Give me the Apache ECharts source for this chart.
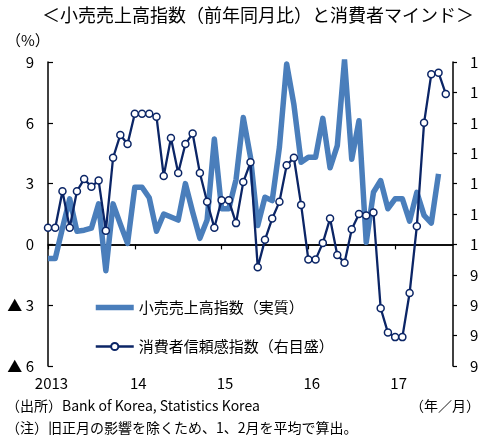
<!DOCTYPE html>
<html>
<head>
<meta charset="utf-8">
<script src="https://cdn.jsdelivr.net/npm/echarts@6/dist/echarts.min.js"></script>
<style>
  html, body { margin: 0; padding: 0; background: #fff; }
  #chart { width: 478px; height: 439px; }
</style>
</head>
<body>
<div id="chart"></div>
<script>
  // 月次: 2013/1 から 2017/9 まで（軸の右端は 2017/9）
  const startYear = 2013
  const monthCount = 57
  const yearLabels = ['2013', '14', '15', '16', '17']

  // 小売売上高指数（実質, 前年同月比 %）2013/1 - 2017/7
  const retailSales = [
    -0.7, -0.7, 0.8, 2.25, 0.65, 0.7, 0.8, 2.0, -1.3, 2.0, 1.0, 0.05,
    2.82, 2.82, 2.3, 0.65, 1.5, 1.35, 1.2, 3.0, 1.6, 0.3, 1.2, 5.2,
    1.76, 1.76, 3.2, 6.26, 4.3, 0.93, 2.33, 2.16, 4.8, 8.9, 6.9, 4.05,
    4.3, 4.3, 6.22, 3.78, 4.87, 9.1, 4.2, 6.1, 0.1, 2.57, 3.15, 1.76,
    2.25, 2.25, 1.15, 2.57, 1.43, 1.05, 3.48
  ]

  // 消費者信頼感指数（右目盛）2013/1 - 2017/8
  const consumerSentiment = [
    101.1, 101.1, 103.5, 101.1, 103.5, 104.3, 103.8, 104.2, 100.9, 105.7, 107.2, 106.6,
    108.6, 108.6, 108.6, 108.4, 104.5, 107.0, 104.7, 106.6, 107.3, 104.7, 102.8, 101.1,
    102.9, 102.9, 101.4, 104.1, 105.4, 98.5, 100.3, 101.7, 102.8, 105.2, 105.7, 102.6,
    99.0, 99.0, 100.1, 101.7, 99.3, 98.8, 101.0, 102.0, 101.9, 102.1, 95.8, 94.2,
    93.9, 93.9, 96.8, 101.2, 108.0, 111.2, 111.3, 109.9
  ]

  const months = []
  for (let i = 0; i < monthCount; i++) {
    months.push((startYear + Math.floor(i / 12)) + '/' + (i % 12 + 1))
  }

  const FONT = '"Noto Sans CJK JP", "Noto Sans", sans-serif'
  const BLUE = '#4A7EBB'
  const NAVY = '#0B2566'

  const chart = echarts.init(document.getElementById('chart'))
  const isYearStart = (idx) => idx % 12 === 0

  const option = {
    animation: false,
    textStyle: {fontFamily: FONT, color: '#000'},
    grid: {left: 48, right: 25, top: 62, bottom: 73, containLabel: false, outerBoundsMode: 'none'},
    legend: {
      orient: 'vertical',
      left: 93,
      top: 300,
      padding: 0,
      itemWidth: 38,
      itemHeight: 9,
      itemGap: 24,
      textStyle: {fontFamily: FONT, fontSize: 15, color: '#000'},
      data: [
        {name: '小売売上高指数（実質）', lineStyle: {width: 5.5}, itemStyle: {opacity: 0}},
        {name: '消費者信頼感指数（右目盛）', lineStyle: {width: 2.3}}
      ]
    },
    xAxis: {
      type: 'category',
      data: months,
      boundaryGap: false,
      axisLine: {lineStyle: {color: '#000', width: 1.5}},
      axisTick: {
        interval: (idx) => isYearStart(idx),
        length: 5,
        lineStyle: {color: '#000', width: 1.2}
      },
      axisLabel: {
        interval: (idx) => isYearStart(idx),
        formatter: (val, idx) => yearLabels[Math.floor(idx / 12)],
        margin: 10,
        padding: [0, 0, 0, 7],
        fontSize: 15,
        color: '#000',
        fontFamily: FONT
      },
      splitLine: {show: false}
    },
    yAxis: [
      {
        type: 'value',
        min: -6,
        max: 9,
        interval: 3,
        axisLine: {show: true, lineStyle: {color: '#000', width: 1.5}},
        axisTick: {show: true, inside: true, length: 5, lineStyle: {color: '#000', width: 1.2}},
        axisLabel: {
          margin: 14,
          fontSize: 15,
          color: '#000',
          fontFamily: FONT,
          formatter: (v) => v < 0 ? '▲ ' + (-v) : String(v)
        },
        splitLine: {show: false}
      },
      {
        type: 'value',
        min: 92,
        max: 112,
        interval: 2,
        position: 'right',
        axisLine: {show: true, lineStyle: {color: '#000', width: 1.5}},
        axisTick: {show: true, inside: false, length: 4, lineStyle: {color: '#000', width: 1.2}},
        axisLabel: {margin: 17, fontSize: 15, color: '#000', fontFamily: FONT},
        splitLine: {show: false}
      }
    ],
    series: [
      {
        name: '小売売上高指数（実質）',
        type: 'line',
        yAxisIndex: 0,
        data: retailSales,
        symbol: 'none',
        color: BLUE,
        lineStyle: {color: BLUE, width: 5.5, join: 'round'},
        z: 2,
        markLine: {
          silent: true,
          symbol: ['none', 'none'],
          label: {show: false},
          lineStyle: {color: '#000', width: 1.5, type: 'solid'},
          data: [{yAxis: 0}],
          z: 1
        }
      },
      {
        name: '消費者信頼感指数（右目盛）',
        type: 'line',
        yAxisIndex: 1,
        data: consumerSentiment,
        symbol: 'circle',
        symbolSize: 7,
        showAllSymbol: true,
        color: NAVY,
        lineStyle: {color: NAVY, width: 2.3, join: 'round'},
        itemStyle: {color: '#fff', borderColor: NAVY, borderWidth: 1.5},
        z: 3
      }
    ],
    graphic: [
      {type: 'text', x: 474, y: 6, style: {text: '＜小売売上高指数（前年同月比）と消費者マインド＞', font: '18px ' + FONT, fill: '#000', textAlign: 'right'}},
      {type: 'text', x: 6, y: 33, style: {text: '（%）', font: '15px ' + FONT, fill: '#000'}},
      {type: 'text', x: 6, y: 399, style: {text: '（出所）Bank of Korea, Statistics Korea', font: '14px ' + FONT, fill: '#000'}},
      {type: 'text', x: 410, y: 399, style: {text: '（年／月）', font: '14px ' + FONT, fill: '#000'}},
      {type: 'text', x: 6, y: 421, style: {text: '（注）旧正月の影響を除くため、1、2月を平均で算出。', font: '14px ' + FONT, fill: '#000'}}
    ]
  }

  chart.setOption(option)
  window.onresize = () => {
    chart.resize()
  }
</script>
</body>
</html>
